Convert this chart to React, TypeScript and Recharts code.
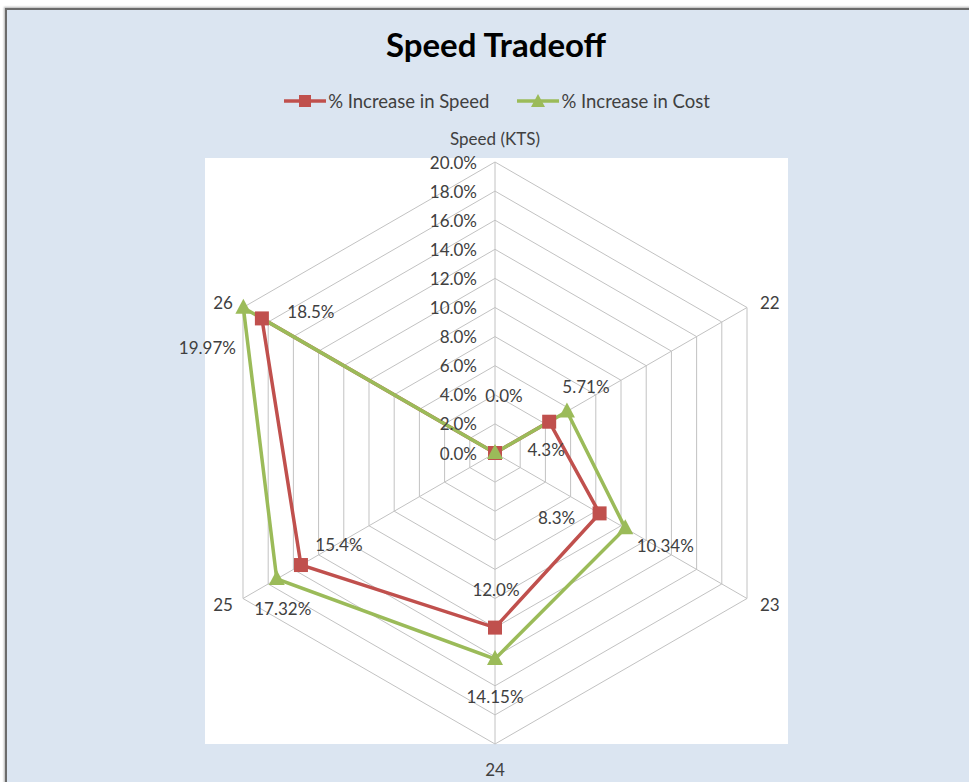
import React from "react";
import {
  RadarChart,
  Radar,
  PolarGrid,
  PolarAngleAxis,
  PolarRadiusAxis,
  LabelList,
  Legend,
} from "recharts";

const categories = ["Speed (KTS)", "22", "23", "24", "25", "26"];
const speedIncrease = [0.0, 4.3, 8.3, 12.0, 15.4, 18.5];
const costIncrease = [0.0, 5.71, 10.34, 14.15, 17.32, 19.97];
const radiusTicks = [0, 2, 4, 6, 8, 10, 12, 14, 16, 18, 20];

const data = categories.map((c, i) => ({
  cat: c,
  speed: speedIncrease[i],
  cost: costIncrease[i],
}));

const W = 969;
const H = 782;
const CX = 495;
const CY = 453;
const R = 291;
const RED = "#C0504D";
const GREEN = "#9BBB59";
const TEXT = "#404040";
const FONT = "Lato, 'Open Sans', sans-serif";
const FS = 17;

// label offsets (style) relative to data points
const speedLabelOffsets = [
  [9, -58],
  [-3, 28],
  [-43, 4],
  [1, -38],
  [38, -21],
  [49, -7],
];
const costLabelOffsets = [
  null,
  [19, -25],
  [40, 17],
  [0, 38],
  [6, 29],
  [-36, 40],
];

const SquareDot = (props: any) => {
  const { cx, cy } = props;
  if (cx == null || cy == null) return null;
  return <rect x={cx - 7} y={cy - 7} width={14} height={14} fill={RED} />;
};

const TriangleDot = (props: any) => {
  const { cx, cy } = props;
  if (cx == null || cy == null) return null;
  return (
    <path
      d={`M${cx},${cy - 9} L${cx + 8},${cy + 6} L${cx - 8},${cy + 6} Z`}
      fill={GREEN}
    />
  );
};

const makeLabel = (offsets: any[], digits: number) => (props: any) => {
  const { x, y, value, index } = props;
  const off = offsets[index];
  if (!off || x == null) return null;
  return (
    <text
      x={x + off[0]}
      y={y + off[1]}
      textAnchor="middle"
      dominantBaseline="central"
      fontSize={FS}
      fontFamily={FONT}
      fill={TEXT}
    >
      {Number(value).toFixed(digits) + "%"}
    </text>
  );
};

const RadiusTick = (props: any) => {
  const { x, y, payload } = props;
  return (
    <text
      x={x - 18}
      y={y}
      textAnchor="end"
      dominantBaseline="central"
      fontSize={FS}
      fontFamily={FONT}
      fill={TEXT}
    >
      {Number(payload.value).toFixed(1) + "%"}
    </text>
  );
};

const AngleTick = (props: any) => {
  const { payload } = props;
  const ang = (payload.coordinate * Math.PI) / 180;
  const vx = CX + R * Math.cos(-ang);
  const vy = CY + R * Math.sin(-ang);
  const cosv = Math.cos(-ang);
  const sinv = Math.sin(-ang);
  let tx = vx;
  let ty = vy;
  let anchor: any = "middle";
  if (Math.abs(cosv) < 0.1) {
    ty = sinv < 0 ? vy - 24 : vy + 25;
  } else {
    tx = cosv > 0 ? vx + 13 : vx - 10;
    anchor = cosv > 0 ? "start" : "end";
    ty = vy + (sinv < 0 ? -5 : 6);
  }
  return (
    <text
      x={tx}
      y={ty}
      textAnchor={anchor}
      dominantBaseline="central"
      fontSize={FS}
      fontFamily={FONT}
      fill={TEXT}
    >
      {payload.value}
    </text>
  );
};

const LegendContent = () => (
  <div
    style={{
      display: "flex",
      justifyContent: "center",
      alignItems: "center",
      fontFamily: FONT,
      fontSize: 18.5,
      color: TEXT,
      gap: 28,
    }}
  >
    <div style={{ display: "flex", alignItems: "center" }}>
      <svg width={42} height={16}>
        <line x1={0} y1={8} x2={42} y2={8} stroke={RED} strokeWidth={3.5} />
        <rect x={15} y={2} width={12} height={12} fill={RED} />
      </svg>
      <span style={{ marginLeft: 2 }}>% Increase in Speed</span>
    </div>
    <div style={{ display: "flex", alignItems: "center" }}>
      <svg width={42} height={16}>
        <line x1={0} y1={8} x2={42} y2={8} stroke={GREEN} strokeWidth={3.5} />
        <path d="M21,1 L28,14 L14,14 Z" fill={GREEN} />
      </svg>
      <span style={{ marginLeft: 2 }}>% Increase in Cost</span>
    </div>
  </div>
);

export default function App() {
  return (
    <div
      style={{
        position: "absolute",
        left: 0,
        top: 0,
        width: W,
        height: H,
        background: "#ffffff",
        overflow: "hidden",
      }}
    >
      <div
        style={{
          position: "absolute",
          left: 5,
          top: 8,
          width: W,
          height: H,
          background: "#DBE5F1",
          borderLeft: "2px solid #6b6b6b",
          borderTop: "2px solid #6b6b6b",
          boxShadow: "-1px -1px 2px rgba(0,0,0,0.3)",
        }}
      />
      <div
        style={{
          position: "absolute",
          left: 205,
          top: 158,
          width: 583,
          height: 586,
          background: "#ffffff",
        }}
      />
      <div
        style={{
          position: "absolute",
          left: 0,
          top: 24,
          width: 992,
          textAlign: "center",
          fontFamily: FONT,
          fontWeight: 700,
          fontSize: 33,
          color: "#000",
        }}
      >
        Speed Tradeoff
      </div>
      <div style={{ position: "absolute", left: 0, top: 0 }}>
        <RadarChart
          width={W}
          height={H}
          data={data}
          cx={CX}
          cy={CY}
          outerRadius={R}
          margin={{ top: 0, right: 0, bottom: 0, left: 0 }}
        >
          <PolarGrid gridType="polygon" stroke="#c2c2c2" strokeWidth={1} />
          <PolarAngleAxis
            dataKey="cat"
            axisLine={false}
            tickLine={false}
            tick={<AngleTick />}
          />
          <PolarRadiusAxis
            angle={90}
            domain={[0, 20]}
            ticks={radiusTicks as any}
            tickCount={11}
            axisLine={false}
            tickLine={false}
            tick={<RadiusTick />}
          />
          <Radar
            name="% Increase in Speed"
            dataKey="speed"
            stroke={RED}
            strokeWidth={3.5}
            fill="none"
            fillOpacity={0}
            dot={<SquareDot />}
            isAnimationActive={false}
          >
            <LabelList dataKey="speed" content={makeLabel(speedLabelOffsets, 1)} />
          </Radar>
          <Radar
            name="% Increase in Cost"
            dataKey="cost"
            stroke={GREEN}
            strokeWidth={3.5}
            fill="none"
            fillOpacity={0}
            dot={<TriangleDot />}
            isAnimationActive={false}
          >
            <LabelList dataKey="cost" content={makeLabel(costLabelOffsets, 2)} />
          </Radar>
          <Legend
            verticalAlign="top"
            content={<LegendContent />}
            wrapperStyle={{ top: 90, left: 0, width: 994 }}
          />
        </RadarChart>
      </div>
    </div>
  );
}
